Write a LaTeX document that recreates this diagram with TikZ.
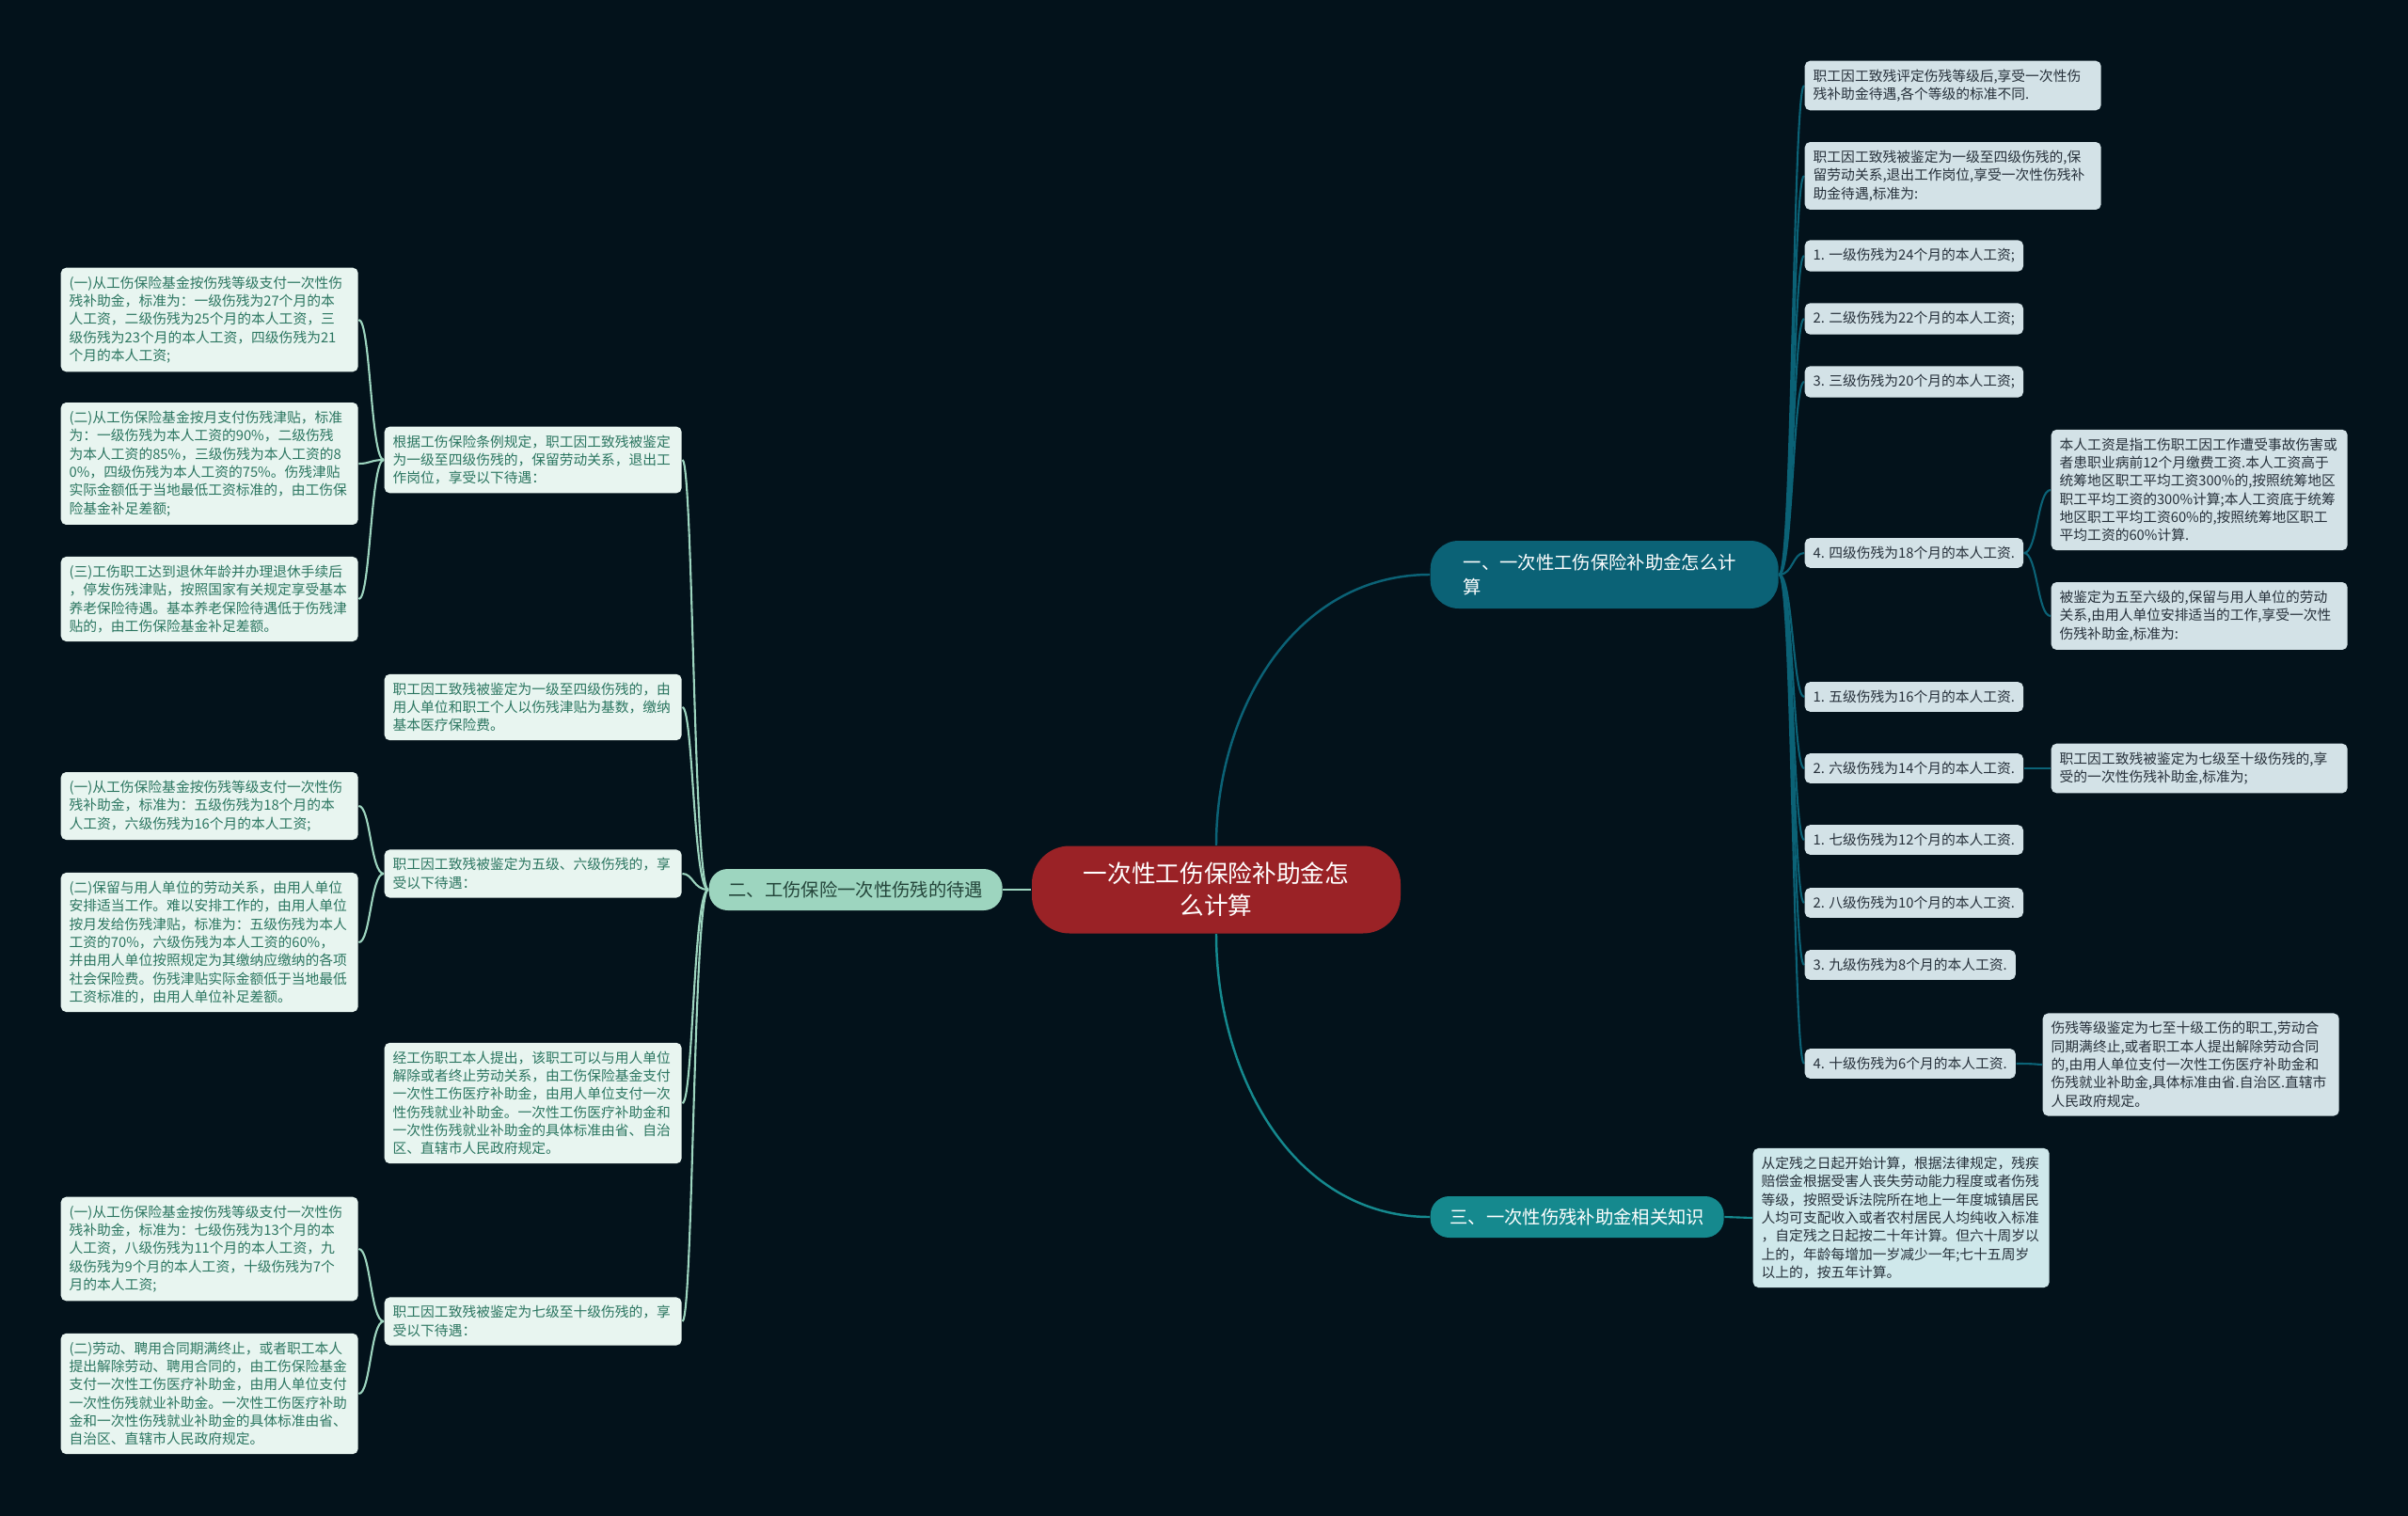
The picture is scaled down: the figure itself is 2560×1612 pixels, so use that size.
\documentclass[tikz,border=0pt]{standalone}
\usepackage{fontspec}
\setmainfont{Noto Sans CJK SC}
\usetikzlibrary{backgrounds}
\definecolor{bgdark}{HTML}{03121B}
\definecolor{rootred}{HTML}{9A2226}
\definecolor{tealdark}{HTML}{0B6276}
\definecolor{tealmid}{HTML}{15898E}
\definecolor{mint}{HTML}{9DD5BF}
\definecolor{minttext}{HTML}{2B7560}
\definecolor{mintpale}{HTML}{E8F5F0}
\definecolor{greypale}{HTML}{D3E2E7}
\definecolor{cyanpale}{HTML}{CFE8EB}
\definecolor{inktext}{HTML}{26303A}
\definecolor{topicink}{HTML}{24453A}

\begin{document}
\begin{tikzpicture}[
  x=0.1mm, y=-0.1mm,
  root/.style={fill=rootred, text=white, rounded corners=4mm, align=center,
    minimum width=39.2mm, minimum height=9.3mm,
    font=\fontsize{7.3pt}{9.7pt}\selectfont},
  topic/.style={anchor=west, align=left, rounded corners=2mm,
    font=\fontsize{5.5pt}{7.4pt}\selectfont},
  leaf/.style={anchor=west, rounded corners=1.6pt, align=left,
    inner xsep=0.9mm, inner ysep=0.9mm,
    font=\fontsize{4.2pt}{5.5pt}\selectfont},
  leafL/.style={leaf, fill=mintpale, text=minttext, text width=29.8mm},
  leafR/.style={leaf, fill=greypale, text=inktext},
  wide/.style={text width=29.7mm},
  linkTop/.style={line width=0.7pt},
  linkR/.style={draw=tealdark, line width=0.6pt},
  linkL/.style={draw=mint, line width=0.6pt},
  linkB/.style={draw=tealmid, line width=0.6pt}
]
\useasboundingbox (0,0) rectangle (2560,1612);

\node[root] (root) at (1293,946) {一次性工伤保险补助金怎\\么计算};
\node[topic, fill=tealdark, text=white, text width=30mm, inner xsep=3.5mm,
  minimum height=7.2mm, rounded corners=3mm] (b1) at (1520,611)
  {一、一次性工伤保险补助金怎么计\\算};
\node[topic, fill=mint, text=topicink, align=center, minimum width=31.2mm,
  minimum height=4.4mm] (b2) at (753,946) {二、工伤保险一次性伤残的待遇};
\node[topic, fill=tealmid, text=white, align=center, minimum width=31.2mm,
  minimum height=4.4mm] (b3) at (1520,1294) {三、一次性伤残补助金相关知识};

\node[leafR, wide] (r1) at (1918,91) {职工因工致残评定伤残等级后,享受一次性伤\\残补助金待遇,各个等级的标准不同.};
\node[leafR, wide] (r2) at (1918,187) {职工因工致残被鉴定为一级至四级伤残的,保\\留劳动关系,退出工作岗位,享受一次性伤残补\\助金待遇,标准为:};
\node[leafR] (r3) at (1918,272) {1. 一级伤残为24个月的本人工资;};
\node[leafR] (r4) at (1918,339) {2. 二级伤残为22个月的本人工资;};
\node[leafR] (r5) at (1918,406) {3. 三级伤残为20个月的本人工资;};
\node[leafR] (r6) at (1918,588) {4. 四级伤残为18个月的本人工资.};
\node[leafR] (r7) at (1918,741) {1. 五级伤残为16个月的本人工资.};
\node[leafR] (r8) at (1918,817) {2. 六级伤残为14个月的本人工资.};
\node[leafR] (r9) at (1918,893) {1. 七级伤残为12个月的本人工资.};
\node[leafR] (r10) at (1918,960) {2. 八级伤残为10个月的本人工资.};
\node[leafR] (r11) at (1918,1026) {3. 九级伤残为8个月的本人工资.};
\node[leafR] (r12) at (1918,1131) {4. 十级伤残为6个月的本人工资.};

\node[leafR, wide] (q1) at (2180,521) {本人工资是指工伤职工因工作遭受事故伤害或\\者患职业病前12个月缴费工资.本人工资高于\\统筹地区职工平均工资300\%的,按照统筹地区\\职工平均工资的300\%计算;本人工资底于统筹\\地区职工平均工资60\%的,按照统筹地区职工\\平均工资的60\%计算.};
\node[leafR, wide] (q2) at (2180,655) {被鉴定为五至六级的,保留与用人单位的劳动\\关系,由用人单位安排适当的工作,享受一次性\\伤残补助金,标准为:};
\node[leafR, wide] (q3) at (2180,817) {职工因工致残被鉴定为七级至十级伤残的,享\\受的一次性伤残补助金,标准为;};
\node[leafR, wide] (q4) at (2171,1132) {伤残等级鉴定为七至十级工伤的职工,劳动合\\同期满终止,或者职工本人提出解除劳动合同\\的,由用人单位支付一次性工伤医疗补助金和\\伤残就业补助金,具体标准由省.自治区.直辖市\\人民政府规定。};

\node[leafR, wide, fill=cyanpale] (k1) at (1863,1295) {从定残之日起开始计算，根据法律规定，残疾\\赔偿金根据受害人丧失劳动能力程度或者伤残\\等级，按照受诉法院所在地上一年度城镇居民\\人均可支配收入或者农村居民人均纯收入标准\\，自定残之日起按二十年计算。但六十周岁以\\上的，年龄每增加一岁减少一年;七十五周岁\\以上的，按五年计算。};

\node[leafL] (m1) at (408,489) {根据工伤保险条例规定，职工因工致残被鉴定\\为一级至四级伤残的，保留劳动关系，退出工\\作岗位，享受以下待遇：};
\node[leafL] (m2) at (408,752) {职工因工致残被鉴定为一级至四级伤残的，由\\用人单位和职工个人以伤残津贴为基数，缴纳\\基本医疗保险费。};
\node[leafL] (m3) at (408,929) {职工因工致残被鉴定为五级、六级伤残的，享\\受以下待遇：};
\node[leafL] (m4) at (408,1173) {经工伤职工本人提出，该职工可以与用人单位\\解除或者终止劳动关系，由工伤保险基金支付\\一次性工伤医疗补助金，由用人单位支付一次\\性伤残就业补助金。一次性工伤医疗补助金和\\一次性伤残就业补助金的具体标准由省、自治\\区、直辖市人民政府规定。};
\node[leafL] (m5) at (408,1405) {职工因工致残被鉴定为七级至十级伤残的，享\\受以下待遇：};

\node[leafL] (l1) at (64,340) {(一)从工伤保险基金按伤残等级支付一次性伤\\残补助金，标准为：一级伤残为27个月的本\\人工资，二级伤残为25个月的本人工资，三\\级伤残为23个月的本人工资，四级伤残为21\\个月的本人工资;};
\node[leafL] (l2) at (64,493) {(二)从工伤保险基金按月支付伤残津贴，标准\\为：一级伤残为本人工资的90\%，二级伤残\\为本人工资的85\%，三级伤残为本人工资的8\\0\%，四级伤残为本人工资的75\%。伤残津贴\\实际金额低于当地最低工资标准的，由工伤保\\险基金补足差额;};
\node[leafL] (l3) at (64,637) {(三)工伤职工达到退休年龄并办理退休手续后\\，停发伤残津贴，按照国家有关规定享受基本\\养老保险待遇。基本养老保险待遇低于伤残津\\贴的，由工伤保险基金补足差额。};
\node[leafL] (l4) at (64,857) {(一)从工伤保险基金按伤残等级支付一次性伤\\残补助金，标准为：五级伤残为18个月的本\\人工资，六级伤残为16个月的本人工资;};
\node[leafL] (l5) at (64,1002) {(二)保留与用人单位的劳动关系，由用人单位\\安排适当工作。难以安排工作的，由用人单位\\按月发给伤残津贴，标准为：五级伤残为本人\\工资的70\%，六级伤残为本人工资的60\%，\\并由用人单位按照规定为其缴纳应缴纳的各项\\社会保险费。伤残津贴实际金额低于当地最低\\工资标准的，由用人单位补足差额。};
\node[leafL] (l6) at (64,1328) {(一)从工伤保险基金按伤残等级支付一次性伤\\残补助金，标准为：七级伤残为13个月的本\\人工资，八级伤残为11个月的本人工资，九\\级伤残为9个月的本人工资，十级伤残为7个\\月的本人工资;};
\node[leafL] (l7) at (64,1482) {(二)劳动、聘用合同期满终止，或者职工本人\\提出解除劳动、聘用合同的，由工伤保险基金\\支付一次性工伤医疗补助金，由用人单位支付\\一次性伤残就业补助金。一次性工伤医疗补助\\金和一次性伤残就业补助金的具体标准由省、\\自治区、直辖市人民政府规定。};

\begin{scope}[on background layer]
\fill[bgdark] (0,0) rectangle (2560,1612);
\draw[linkTop, tealdark] (root.north) to[out=90,in=180] (b1.west);
\draw[linkTop, tealmid] (root.south) to[out=-90,in=180] (b3.west);
\draw[linkTop, mint] (root.west) -- (b2.east);
\coordinate (sa) at (1906,0);
\coordinate (sb) at (2166,0);
\coordinate (sc) at (737,0);
\coordinate (sd) at (394,0);
\foreach \i in {1,...,12}
  \draw[linkR] (b1.east) .. controls (b1.east -| sa) and (r\i.west -| sa) .. (r\i.west);
\foreach \p/\c in {r6/q1,r6/q2,r8/q3,r12/q4}
  \draw[linkR] (\p.east) .. controls (\p.east -| sb) and (\c.west -| sb) .. (\c.west);
\draw[linkB] (b3.east) -- (k1.west);
\foreach \i in {1,...,5}
  \draw[linkL] (b2.west) .. controls (b2.west -| sc) and (m\i.east -| sc) .. (m\i.east);
\foreach \p/\c in {m1/l1,m1/l2,m1/l3,m3/l4,m3/l5,m5/l6,m5/l7}
  \draw[linkL] (\p.west) .. controls (\p.west -| sd) and (\c.east -| sd) .. (\c.east);
\end{scope}
\end{tikzpicture}
\end{document}
